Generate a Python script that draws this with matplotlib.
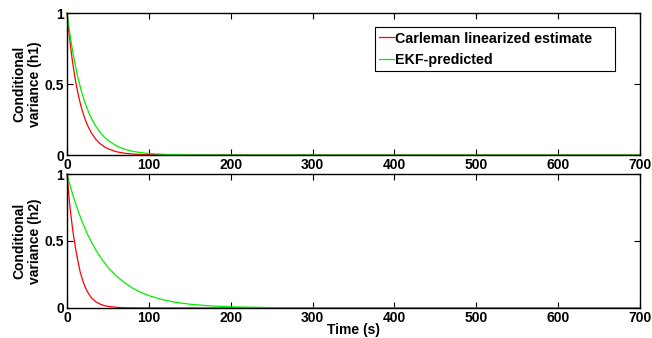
import matplotlib
matplotlib.use('Agg')
import matplotlib.pyplot as plt

# readings taken off the reference curves
t_h1 = [0, 1, 2, 3, 4, 5, 6, 8, 10, 12, 14, 16, 18, 20, 23, 26, 30, 35, 40, 45, 50,
        60, 70, 80, 90, 100, 120, 150, 200, 700]
carleman_h1 = [1.0, 0.939, 0.882, 0.829, 0.779, 0.732, 0.687, 0.607, 0.535, 0.472, 0.417,
               0.368, 0.325, 0.287, 0.238, 0.197, 0.153, 0.112, 0.082, 0.060, 0.044,
               0.0235, 0.0126, 0.0067, 0.0036, 0.0019, 0.0006, 0.0001, 0.0, 0.0]
ekf_h1 = [1.0, 0.956, 0.913, 0.873, 0.834, 0.797, 0.761, 0.695, 0.635, 0.580, 0.529,
          0.483, 0.441, 0.403, 0.352, 0.307, 0.256, 0.204, 0.162, 0.129, 0.103,
          0.065, 0.0415, 0.026, 0.017, 0.0106, 0.0043, 0.0011, 0.0001, 0.0]

t_h2_red = [0, 1, 2, 3, 4, 5, 6, 7, 8, 9, 10, 12, 14, 16, 18, 20, 23, 26, 30, 35, 40,
            45, 50, 60, 70, 80, 100, 120, 700]
carleman_h2 = [1.0, 0.93, 0.86, 0.79, 0.73, 0.68, 0.63, 0.58, 0.54, 0.50, 0.46, 0.39,
               0.33, 0.27, 0.23, 0.19, 0.145, 0.11, 0.075, 0.047, 0.03, 0.019, 0.012,
               0.005, 0.002, 0.001, 0.0002, 0.0, 0.0]
t_h2_green = [0, 2, 4, 6, 8, 10, 12, 15, 18, 21, 25, 30, 35, 40, 45, 50, 60, 70, 80, 90,
              100, 115, 130, 150, 175, 200, 250, 300, 400, 700]
ekf_h2 = [1.0, 0.953, 0.909, 0.867, 0.827, 0.788, 0.751, 0.700, 0.652, 0.607, 0.551,
          0.490, 0.435, 0.386, 0.343, 0.304, 0.240, 0.189, 0.149, 0.117, 0.092, 0.065,
          0.045, 0.028, 0.0155, 0.0086, 0.0026, 0.0008, 0.0001, 0.0]

x_ticks = [0, 100, 200, 300, 400, 500, 600, 700]
y_ticks = [0, 0.5, 1]
y_tick_labels = ['0', '0.5', '1']

plt.rcParams['font.family'] = ['Liberation Sans', 'DejaVu Sans']
plt.rcParams['font.weight'] = 'bold'
plt.rcParams['axes.labelweight'] = 'bold'

fig = plt.figure(figsize=(6.52, 3.38), dpi=100)
ax1 = fig.add_axes([0.1028, 0.5414, 0.8788, 0.4201])
ax2 = fig.add_axes([0.1028, 0.0888, 0.8788, 0.3964])

panels = [(ax1, t_h1, carleman_h1, t_h1, ekf_h1, 'Conditional\nvariance (h1)'),
          (ax2, t_h2_red, carleman_h2, t_h2_green, ekf_h2, 'Conditional\nvariance (h2)')]
for ax, tr, red, tg, green, lab in panels:
    ax.plot(tr, red, color='#ff0000', lw=0.9, label='Carleman linearized estimate', clip_on=False)
    ax.plot(tg, green, color='#00ee00', lw=0.9, label='EKF-predicted', clip_on=False)
    ax.set_xlim(0, 700)
    ax.set_ylim(0, 1)
    ax.set_xticks(x_ticks)
    ax.set_yticks(y_ticks)
    ax.set_yticklabels(y_tick_labels)
    ax.tick_params(direction='in', top=True, right=True, length=4, width=0.8,
                   labelsize=10, pad=2)
    for s in ax.spines.values():
        s.set_linewidth(1.0)
    ax.set_ylabel(lab, fontsize=10, linespacing=1.1)
    ax.yaxis.set_label_coords(-0.044, 0.5)
    for lbl in ax.get_xticklabels() + ax.get_yticklabels():
        lbl.set_fontweight('bold')

ax2.set_xlabel('Time (s)', fontsize=10, labelpad=-1)

leg = ax1.legend(loc='upper left', bbox_to_anchor=(0.5375, 0.5, 0.419, 0.40), mode='expand',
                 fontsize=10.3, handlelength=1.0, handletextpad=0.1, borderpad=0.3,
                 labelspacing=0.5, borderaxespad=0, fancybox=False, framealpha=1,
                 edgecolor='black')
leg.get_frame().set_linewidth(0.8)

fig.savefig('out.png', dpi=100)
